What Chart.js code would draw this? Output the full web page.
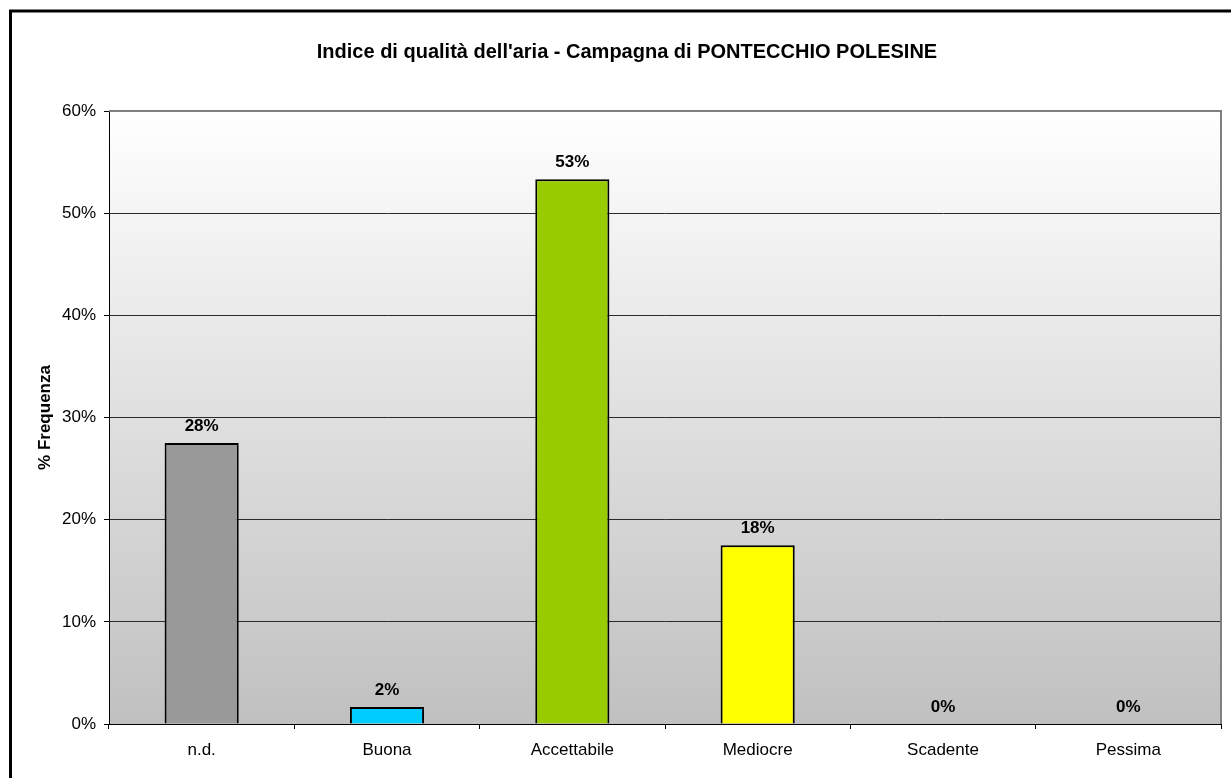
<!DOCTYPE html>
<html>
<head>
<meta charset="utf-8">
<title>Indice di qualità dell'aria</title>
<script src="https://cdn.jsdelivr.net/npm/chart.js@4"></script>
<style>
  html, body { margin: 0; padding: 0; background: #fff; }
  canvas { display: block; }
</style>
</head>
<body>
<canvas id="aqi" width="1231" height="778"></canvas>
<script>
// giorni di campagna per classe, espressi in % (120 giorni)
var categorie = ['n.d.', 'Buona', 'Accettabile', 'Mediocre', 'Scadente', 'Pessima'];
var frequenza = [27.5, 1.67, 53.33, 17.5, 0, 0];
var coloriBarre = ['#999999', '#00ccff', '#99cc00', '#ffff00', '#ff9900', '#ff0000'];
var tickY = [0, 10, 20, 30, 40, 50, 60];
var titolo = "Indice di qualità dell'aria - Campagna di PONTECCHIO POLESINE";

var fontBase = "Arial, 'Liberation Sans', sans-serif";

// sfondo sfumato dell'area del grafico, bordo esterno e titolo
var sfondo = {
    id: 'sfondo',
    beforeDraw: function (chart) {
        var c = chart.ctx, a = chart.chartArea;
        var g = c.createLinearGradient(0, a.top, 0, a.bottom);
        g.addColorStop(0, '#ffffff');
        g.addColorStop(1, '#c0c0c0');
        c.save();
        c.fillStyle = g;
        c.fillRect(a.left, a.top, a.right - a.left, a.bottom - a.top);
        c.restore();
    },
    afterDraw: function (chart) {
        var c = chart.ctx, a = chart.chartArea;
        c.save();
        c.strokeStyle = '#808080';
        c.lineWidth = 2;
        c.beginPath();
        c.moveTo(a.left, a.top);
        c.lineTo(a.right, a.top);
        c.lineTo(a.right, a.bottom);
        c.stroke();
        c.strokeStyle = '#000';
        c.lineWidth = 3;
        c.beginPath();
        c.moveTo(10.5, chart.height);
        c.lineTo(10.5, 11);
        c.lineTo(chart.width, 11);
        c.stroke();
        c.font = 'bold 20px ' + fontBase;
        c.fillStyle = '#000';
        c.textAlign = 'center';
        c.textBaseline = 'middle';
        c.fillText(titolo, 627, 52);
        c.restore();
    }
};

// etichette percentuali sopra le barre
var etichette = {
    id: 'etichette',
    afterDatasetsDraw: function (chart) {
        var c = chart.ctx;
        var meta = chart.getDatasetMeta(0);
        c.save();
        c.font = 'bold 17px ' + fontBase;
        c.fillStyle = '#000';
        c.textAlign = 'center';
        c.textBaseline = 'bottom';
        meta.data.forEach(function (bar, i) {
            c.fillText(Math.round(frequenza[i]) + '%', bar.x, bar.y - 8);
        });
        c.restore();
    }
};

new Chart(document.getElementById('aqi'), {
    type: 'bar',
    data: {
        labels: categorie,
        datasets: [{
            data: frequenza,
            backgroundColor: coloriBarre,
            borderColor: '#000',
            borderWidth: 2,
            barPercentage: 0.4,
            categoryPercentage: 1
        }]
    },
    options: {
        responsive: false,
        animation: false,
        layout: { padding: { left: 0, right: 10, top: 111, bottom: 0 } },
        plugins: {
            legend: { display: false },
            tooltip: { enabled: false },
            title: { display: false }
        },
        scales: {
            x: {
                grid: { offset: true, drawOnChartArea: false, tickLength: 5, color: '#000' },
                border: { color: '#000', width: 1 },
                ticks: { color: '#000', padding: 11, font: { family: fontBase, size: 17 } },
                afterFit: function (s) { s.height = 54; }
            },
            y: {
                min: 0,
                max: 60,
                afterBuildTicks: function (s) {
                    s.ticks = tickY.map(function (v) { return { value: v }; });
                },
                grid: {
                    color: function (ctx) { return ctx.tick && ctx.tick.value === 60 ? '#808080' : '#2a2a2a'; },
                    tickLength: 5,
                    tickColor: '#000'
                },
                border: { color: '#000', width: 1 },
                ticks: {
                    color: '#000',
                    padding: 8,
                    font: { family: fontBase, size: 17 },
                    callback: function (v) { return v + '%'; }
                },
                title: {
                    display: true,
                    text: '% Frequenza',
                    color: '#000',
                    font: { family: fontBase, size: 17, weight: 'bold' },
                    padding: { top: 35, bottom: 0 }
                },
                afterFit: function (s) { s.width = 109; }
            }
        }
    },
    plugins: [sfondo, etichette]
});
</script>
</body>
</html>
